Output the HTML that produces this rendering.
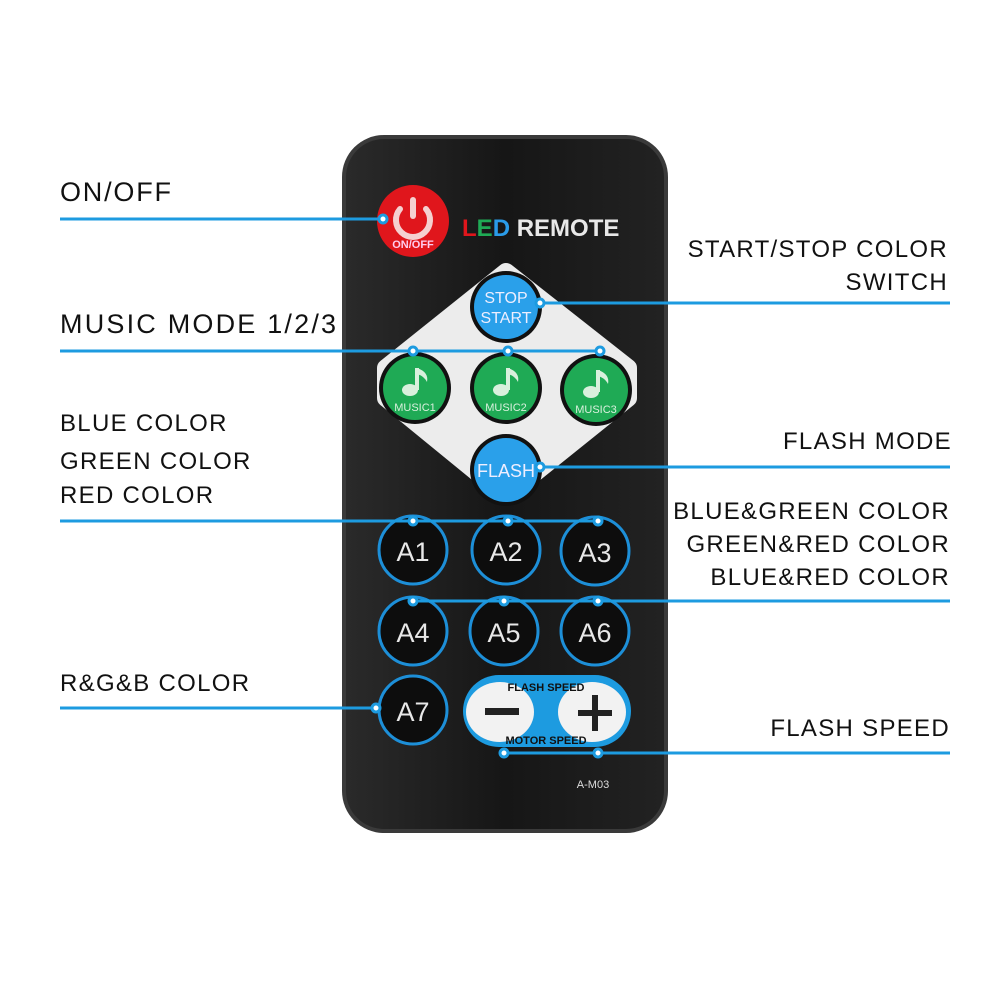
<!DOCTYPE html>
<html><head><meta charset="utf-8"><style>
html,body{margin:0;padding:0;background:#fff;}
svg{display:block;}
text{font-family:"Liberation Sans",sans-serif;}
</style></head><body>
<svg width="1001" height="1001" viewBox="0 0 1001 1001" xmlns="http://www.w3.org/2000/svg">
<defs>
<linearGradient id="body" x1="0" x2="1"><stop offset="0" stop-color="#2a2a2a"/><stop offset="0.5" stop-color="#161616"/><stop offset="1" stop-color="#222"/></linearGradient>
</defs>
<rect x="342" y="135" width="326" height="698" rx="42" fill="#3a3a3a"/>
<rect x="346" y="139" width="318" height="690" rx="38" fill="url(#body)"/>
<polygon points="506,272 628,368 628,398 506,496 386,398 386,368" fill="#ececec" stroke="#ececec" stroke-width="18" stroke-linejoin="round"/>
<circle cx="413" cy="221" r="36" fill="#e0161c"/>
<path d="M400 209 A17 17 0 1 0 426 209" fill="none" stroke="#f5d0d0" stroke-width="6" stroke-linecap="round"/>
<line x1="413" y1="200" x2="413" y2="216" stroke="#f5d0d0" stroke-width="6" stroke-linecap="round"/>
<text x="413" y="248" font-size="11" font-weight="bold" fill="#fce" text-anchor="middle">ON/OFF</text>
<text x="462" y="236" font-size="24" font-weight="bold"><tspan fill="#e0161c">L</tspan><tspan fill="#1faa55">E</tspan><tspan fill="#2a9be8">D</tspan><tspan fill="#e8e8e8"> REMOTE</tspan></text>
<circle cx="506" cy="307" r="36" fill="#111"/><circle cx="506" cy="307" r="32" fill="#2aa0ea"/>
<text x="506" y="303" font-size="16" fill="#eef" text-anchor="middle">STOP</text>
<text x="506" y="323" font-size="16" fill="#eef" text-anchor="middle">START</text>
<circle cx="506" cy="470" r="36" fill="#111"/><circle cx="506" cy="470" r="32" fill="#2aa0ea"/>
<text x="506" y="477" font-size="18" fill="#eef" text-anchor="middle">FLASH</text>
<g>
<circle cx="415" cy="388" r="36" fill="#111"/><circle cx="415" cy="388" r="32" fill="#1faa55"/>
<circle cx="506" cy="388" r="36" fill="#111"/><circle cx="506" cy="388" r="32" fill="#1faa55"/>
<circle cx="596" cy="390" r="36" fill="#111"/><circle cx="596" cy="390" r="32" fill="#1faa55"/>
</g>
<g fill="#d9f0dd">
<ellipse cx="410" cy="390" rx="8" ry="6"/><rect x="415" y="368" width="4" height="22"/><path d="M417 368 q12 4 10 14 q-3-6-10-8z"/>
<ellipse cx="501" cy="390" rx="8" ry="6"/><rect x="506" y="368" width="4" height="22"/><path d="M508 368 q12 4 10 14 q-3-6-10-8z"/>
<ellipse cx="591" cy="392" rx="8" ry="6"/><rect x="596" y="370" width="4" height="22"/><path d="M598 370 q12 4 10 14 q-3-6-10-8z"/>
</g>
<g font-size="11" fill="#d9f0dd" text-anchor="middle">
<text x="415" y="411">MUSIC1</text><text x="506" y="411">MUSIC2</text><text x="596" y="413">MUSIC3</text>
</g>
<g fill="#0d0d0d" stroke="#1d8fd8" stroke-width="3">
<circle cx="413" cy="550" r="34"/><circle cx="506" cy="550" r="34"/><circle cx="595" cy="551" r="34"/>
<circle cx="413" cy="631" r="34"/><circle cx="504" cy="631" r="34"/><circle cx="595" cy="631" r="34"/>
<circle cx="413" cy="710" r="34"/>
</g>
<g font-size="27" fill="#e8e8e8" text-anchor="middle">
<text x="413" y="561">A1</text><text x="506" y="561">A2</text><text x="595" y="562">A3</text>
<text x="413" y="642">A4</text><text x="504" y="642">A5</text><text x="595" y="642">A6</text>
<text x="413" y="721">A7</text>
</g>
<rect x="463" y="675" width="168" height="72" rx="36" fill="#1d9be0"/>
<ellipse cx="500" cy="712" rx="34" ry="30" fill="#f2f2f2"/>
<ellipse cx="592" cy="712" rx="34" ry="30" fill="#f2f2f2"/>
<rect x="485" y="708" width="34" height="7" fill="#222"/>
<rect x="578" y="710" width="34" height="6" fill="#222"/><rect x="592" y="695" width="6" height="36" fill="#222"/>
<text x="546" y="691" font-size="11" font-weight="bold" fill="#111" text-anchor="middle">FLASH SPEED</text>
<text x="546" y="744" font-size="11" font-weight="bold" fill="#111" text-anchor="middle">MOTOR SPEED</text>
<text x="593" y="788" font-size="11" fill="#ddd" text-anchor="middle">A-M03</text>
<g stroke="#1d9be0" stroke-width="3" fill="none">
<line x1="60" y1="219" x2="383" y2="219"/>
<line x1="540" y1="303" x2="950" y2="303"/>
<line x1="60" y1="351" x2="600" y2="351"/>
<line x1="540" y1="467" x2="950" y2="467"/>
<line x1="60" y1="521" x2="598" y2="521"/>
<line x1="413" y1="601" x2="950" y2="601"/>
<line x1="60" y1="708" x2="376" y2="708"/>
<line x1="504" y1="753" x2="950" y2="753"/>
</g>
<g fill="#fff" stroke="#1d9be0" stroke-width="3">
<circle cx="383" cy="219" r="4"/><circle cx="540" cy="303" r="4"/>
<circle cx="413" cy="351" r="4"/><circle cx="508" cy="351" r="4"/><circle cx="600" cy="351" r="4"/>
<circle cx="540" cy="467" r="4"/>
<circle cx="413" cy="521" r="4"/><circle cx="508" cy="521" r="4"/><circle cx="598" cy="521" r="4"/>
<circle cx="413" cy="601" r="4"/><circle cx="504" cy="601" r="4"/><circle cx="598" cy="601" r="4"/>
<circle cx="376" cy="708" r="4"/>
<circle cx="504" cy="753" r="4"/><circle cx="598" cy="753" r="4"/>
</g>
<g font-size="24" fill="#111" letter-spacing="1.3">
<text x="60" y="201" font-size="27" letter-spacing="1.8">ON/OFF</text>
<text x="60" y="333" font-size="27" letter-spacing="2.2">MUSIC MODE 1/2/3</text>
<text x="60" y="431">BLUE COLOR</text>
<text x="60" y="469">GREEN COLOR</text>
<text x="60" y="503">RED COLOR</text>
<text x="60" y="691">R&amp;G&amp;B COLOR</text>
</g>
<g font-size="24" fill="#111" text-anchor="end" letter-spacing="1.3">
<text x="948" y="257">START/STOP COLOR</text>
<text x="948" y="290">SWITCH</text>
<text x="952" y="449">FLASH MODE</text>
<text x="950" y="519">BLUE&amp;GREEN COLOR</text>
<text x="950" y="552">GREEN&amp;RED COLOR</text>
<text x="950" y="585">BLUE&amp;RED COLOR</text>
<text x="950" y="736">FLASH SPEED</text>
</g>
</svg>
</body></html>
